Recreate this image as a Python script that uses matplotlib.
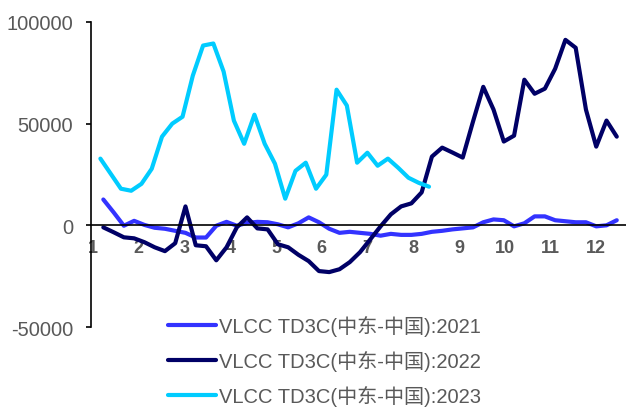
import matplotlib
matplotlib.use('Agg')
import matplotlib.pyplot as plt
import numpy as np
import pandas as pd

plt.rcParams['font.family'] = ['Liberation Sans', 'Noto Sans CJK SC', 'DejaVu Sans']

# weekly values
v2021 = [12700, 6400, -200, 2200, 200, -1200, -1700, -2700, -3700, -6000,
         -6000, -200, 1700, -200, 1200, 1700, 1500, 500, -1000, 1000,
         3900, 1500, -1700, -3700, -3200, -3700, -4200, -5100, -4200, -4700,
         -4700, -4200, -3200, -2700, -2000, -1500, -1000, 1500, 2900, 2500,
         -500, 1000, 4400, 4400, 2500, 2000, 1500, 1500, -500, 0, 2500]
v2022 = [-1000, -3400, -5900, -6400, -8300, -10800, -12700, -8800, 9300, -9800,
         -10300, -17200, -10800, -1000, 3900, -1500, -2000, -9300, -10800, -14500,
         -17600, -22500, -23000, -21600, -18100, -13200, -6900, -500, 5400, 9300,
         10800, 16200, 33800, 38200, 35800, 33300, 51000, 68100, 56900, 41200,
         44100, 71600, 64700, 67200, 77000, 91200, 87300, 56900, 38700, 51500, 43600]
v2023 = [32800, 25400, 18000, 17000, 20400, 27800, 43600, 50000, 53400, 73600,
         88400, 89400, 75600, 51500, 40100, 54400, 40100, 30300, 13100, 26800,
         30800, 18000, 24900, 66700, 58900, 30800, 35700, 29300, 32800, 28300,
         23400, 20900, 19000]

starts = ['2021-01-08', '2022-01-08', '2023-01-06']
series = [v2021, v2022, v2023]
labels = ['VLCC TD3C(中东-中国):2021', 'VLCC TD3C(中东-中国):2022', 'VLCC TD3C(中东-中国):2023']
colors = ['#3333FF', '#000066', '#00CCFF']

month_labels = [str(m) for m in range(1, 13)]
y_ticks = [-50000, 0, 50000, 100000]

fig = plt.figure(figsize=(6.26, 4.10), dpi=100)
ax = fig.add_axes([91 / 626, 0.2, 535 / 626, 0.744])

lines = []
for start, vals, c in zip(starts, series, colors):
    days = pd.date_range(start, periods=len(vals), freq='7D').dayofyear - 1
    ln, = ax.plot(days, vals, color=c, lw=3, solid_capstyle='round', solid_joinstyle='round')
    lines.append(ln)

ax.set_xlim(-1.4, 363.3)
ax.set_ylim(-50000, 100000)

ax.spines['top'].set_visible(False)
ax.spines['right'].set_visible(False)
ax.spines['bottom'].set_position(('data', 0))
for s in ['left', 'bottom']:
    ax.spines[s].set_linewidth(1.2)
    ax.spines[s].set_color('black')

ax.set_xticks(np.linspace(0, 343, 12))
ax.set_xticklabels(month_labels)
ax.tick_params(axis='x', length=0, pad=10, labelsize=13, labelcolor='#595959')
for t in ax.get_xticklabels():
    t.set_fontweight('bold')

ax.set_yticks(y_ticks)
ax.set_yticklabels([str(v) for v in y_ticks])
ax.tick_params(axis='y', direction='out', length=3.6, width=1.2, pad=9.2,
               labelsize=14.5, labelcolor='#595959')

fig.legend(lines, labels, loc='upper left', bbox_to_anchor=(168 / 626, 0.229),
           frameon=False, borderpad=0, borderaxespad=0, handlelength=2.4,
           handletextpad=0.12, labelspacing=0.7, fontsize=14.5, labelcolor='#595959')

plt.savefig('out.png', dpi=100)
plt.close(fig)
